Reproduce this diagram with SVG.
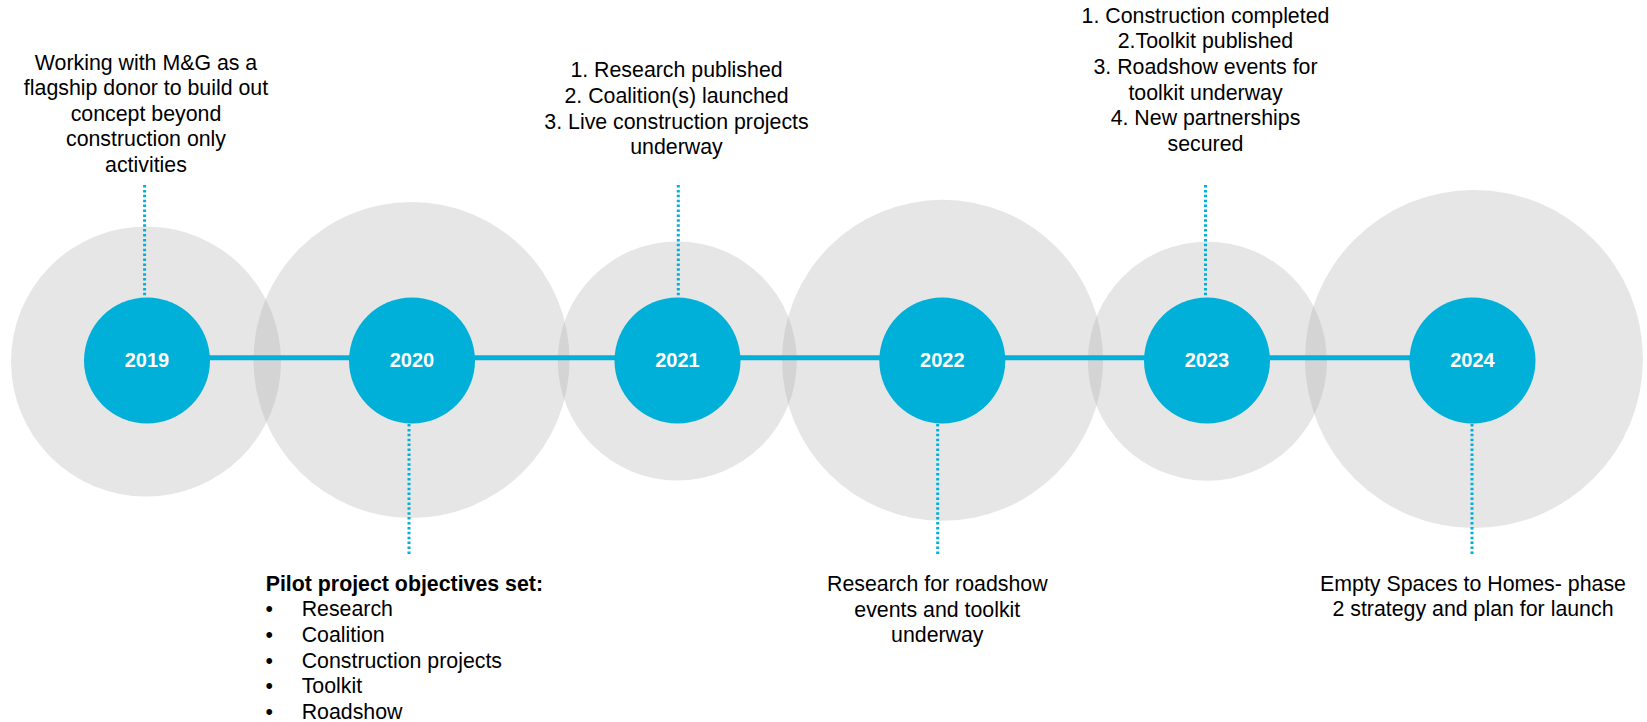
<svg xmlns="http://www.w3.org/2000/svg" width="1647" height="722" viewBox="0 0 1647 722">
<style>
  .halo { fill: #A6A6A6; fill-opacity: 0.28; }
  .dot { fill: #00B0D8; }
  .yr { font-family: "Liberation Sans", Arial, sans-serif; font-size: 20px; font-weight: bold; fill: #FFFFFF; text-anchor: middle; }
  .t { font-family: "Liberation Sans", Arial, sans-serif; font-size: 21.33px; fill: #000000; }
  .c { text-anchor: middle; }
  .b { font-weight: bold; }
  .lead { stroke: #00B0D8; stroke-width: 3; stroke-dasharray: 2.5 2.4; fill: none; }
  .axis { stroke: #00B0D8; stroke-width: 5; fill: none; }
</style>
<rect x="0" y="0" width="1647" height="722" fill="#FFFFFF"/>
<g id="halos">
  <circle class="halo" cx="146" cy="361.5" r="135"/>
  <circle class="halo" cx="411.5" cy="360" r="158"/>
  <circle class="halo" cx="677.3" cy="361" r="119.5"/>
  <circle class="halo" cx="942.6" cy="360.3" r="160.5"/>
  <circle class="halo" cx="1207.4" cy="361.2" r="119.5"/>
  <circle class="halo" cx="1474" cy="359" r="169"/>
</g>
<g id="connectors">
  <line class="axis" x1="147" y1="357.7" x2="1472" y2="357.7"/>
  <line class="lead" x1="144.6" y1="185" x2="144.6" y2="297"/>
  <line class="lead" x1="409" y1="424" x2="409" y2="555"/>
  <line class="lead" x1="678.3" y1="185" x2="678.3" y2="297"/>
  <line class="lead" x1="937.7" y1="424" x2="937.7" y2="555"/>
  <line class="lead" x1="1205.5" y1="185" x2="1205.5" y2="297"/>
  <line class="lead" x1="1472" y1="424" x2="1472" y2="555"/>
</g>
<g id="node-2019">
  <circle class="dot" cx="147" cy="360.5" r="63"/>
  <text class="yr" x="147" y="367.3">2019</text>
  <text class="t c" x="146" y="69.5">Working with M&amp;G as a</text>
  <text class="t c" x="146" y="95.1">flagship donor to build out</text>
  <text class="t c" x="146" y="120.7">concept beyond</text>
  <text class="t c" x="146" y="146.3">construction only</text>
  <text class="t c" x="146" y="171.9">activities</text>
</g>
<g id="node-2020">
  <circle class="dot" cx="412" cy="360.5" r="63"/>
  <text class="yr" x="412" y="367.3">2020</text>
  <text class="t b" x="265.7" y="590.7">Pilot project objectives set:</text>
  <text class="t" x="265.5" y="616.3">•</text>
  <text class="t" x="301.7" y="616.3">Research</text>
  <text class="t" x="265.5" y="641.9">•</text>
  <text class="t" x="301.7" y="641.9">Coalition</text>
  <text class="t" x="265.5" y="667.5">•</text>
  <text class="t" x="301.7" y="667.5">Construction projects</text>
  <text class="t" x="265.5" y="693.1">•</text>
  <text class="t" x="301.7" y="693.1">Toolkit</text>
  <text class="t" x="265.5" y="718.7">•</text>
  <text class="t" x="301.7" y="718.7">Roadshow</text>
</g>
<g id="node-2021">
  <circle class="dot" cx="677.5" cy="360.5" r="63"/>
  <text class="yr" x="677.5" y="367.3">2021</text>
  <text class="t c" x="676.5" y="77.3">1. Research published</text>
  <text class="t c" x="676.5" y="102.9">2. Coalition(s) launched</text>
  <text class="t c" x="676.5" y="128.5">3. Live construction projects</text>
  <text class="t c" x="676.5" y="154.1">underway</text>
</g>
<g id="node-2022">
  <circle class="dot" cx="942.3" cy="360.5" r="63"/>
  <text class="yr" x="942.3" y="367.3">2022</text>
  <text class="t c" x="937.3" y="591">Research for roadshow</text>
  <text class="t c" x="937.3" y="616.6">events and toolkit</text>
  <text class="t c" x="937.3" y="642.2">underway</text>
</g>
<g id="node-2023">
  <circle class="dot" cx="1207" cy="360.5" r="63"/>
  <text class="yr" x="1207" y="367.3">2023</text>
  <text class="t c" x="1205.5" y="22.7">1. Construction completed</text>
  <text class="t c" x="1205.5" y="48.3">2.Toolkit published</text>
  <text class="t c" x="1205.5" y="73.9">3. Roadshow events for</text>
  <text class="t c" x="1205.5" y="99.5">toolkit underway</text>
  <text class="t c" x="1205.5" y="125.1">4. New partnerships</text>
  <text class="t c" x="1205.5" y="150.7">secured</text>
</g>
<g id="node-2024">
  <circle class="dot" cx="1472.5" cy="360.5" r="63"/>
  <text class="yr" x="1472.5" y="367.3">2024</text>
  <text class="t c" x="1473" y="590.7">Empty Spaces to Homes- phase</text>
  <text class="t c" x="1473" y="616.3">2 strategy and plan for launch</text>
</g>
</svg>
